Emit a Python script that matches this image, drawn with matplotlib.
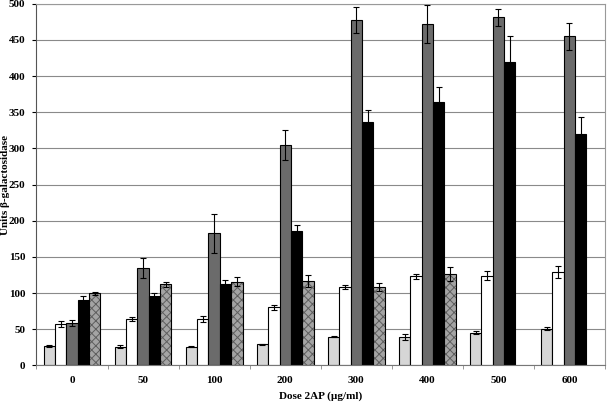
import numpy as np
import matplotlib
matplotlib.use('Agg')
import matplotlib.pyplot as plt

plt.rcParams['font.family'] = ['Liberation Serif', 'DejaVu Serif']
plt.rcParams['hatch.linewidth'] = 0.7

doses = ['0', '50', '100', '200', '300', '400', '500', '600']

# five series, values (nan = bar not drawn)
light = [27, 26, 26, 29, 39.5, 39, 45, 50.5]
light_err = [1, 2, 1, 1, 1, 4, 2, 2]
white = [57.5, 64, 64, 80, 108, 123, 124, 129]
white_err = [4, 3, 4, 3, 3, 4, 6, 8]
dark = [58.5, 134.5, 182.5, 305, 478, 472, 481.5, 455]
dark_err = [4, 14, 27, 21, 18, 26, 11.5, 19]
black = [90, 96, 113, 186, 336.5, 364, 420, 320]
black_err = [6, 4, 5, 8, 16, 21, 35, 23]
speck = [99.5, 112, 115.5, 116.5, 108.5, 126.5, np.nan, np.nan]
speck_err = [2, 3, 6, 8, 6, 10, np.nan, np.nan]

fig = plt.figure(figsize=(6.08, 4.03), dpi=100)
ax = fig.add_axes([0.060, 0.0935, 0.935, 0.897])

x = np.arange(len(doses))
w = 0.16
series = [
    (light, light_err, '#d6d6d6', None),
    (white, white_err, 'white', None),
    (dark, dark_err, '#6b6b6b', None),
    (black, black_err, 'black', None),
    (speck, speck_err, '#a4a4a4', 'xxxx'),
]
for i, (vals, errs, col, hatch) in enumerate(series):
    pos = x + (i - 2) * w
    if hatch:
        ax.bar(pos, vals, w, color=col, hatch=hatch, edgecolor='#5e5e5e',
               linewidth=0, zorder=2)
        ax.bar(pos, vals, w, fill=False, edgecolor='black', linewidth=0.8, zorder=3)
    else:
        ax.bar(pos, vals, w, color=col, edgecolor='black', linewidth=0.8, zorder=2)
    ax.errorbar(pos, vals, yerr=errs, fmt='none', ecolor='black',
                elinewidth=0.8, capsize=2, capthick=0.8, zorder=4)

ax.set_xlim(-0.5, len(doses) - 0.5)
ax.set_ylim(0, 500)
ax.set_yticks(np.arange(0, 501, 50))
ax.set_xticks(x)
ax.set_xticklabels(doses)
ax.set_xticks(np.arange(-0.5, len(doses)), minor=True)
ax.tick_params(axis='x', which='major', length=0, pad=8)
ax.tick_params(axis='x', which='minor', length=3, color='#888888')
ax.tick_params(axis='y', length=3, pad=5)
for lab in ax.get_xticklabels() + ax.get_yticklabels():
    lab.set_fontweight('bold')
    lab.set_fontsize(8)

ax.grid(axis='y', color='#8a8a8a', linewidth=0.8, zorder=0)
ax.set_axisbelow(True)
ax.spines['left'].set_color('#555555')
ax.spines['bottom'].set_color('#777777')
ax.spines['top'].set_color('#999999')
ax.spines['right'].set_color('#999999')

ax.set_ylabel('Units β-galactosidase', fontweight='bold', fontsize=8)
ax.yaxis.set_label_coords(-0.046, 0.5)
ax.set_xlabel('Dose 2AP (µg/ml)', fontweight='bold', fontsize=8, labelpad=4)

fig.savefig('out.png', dpi=100)
